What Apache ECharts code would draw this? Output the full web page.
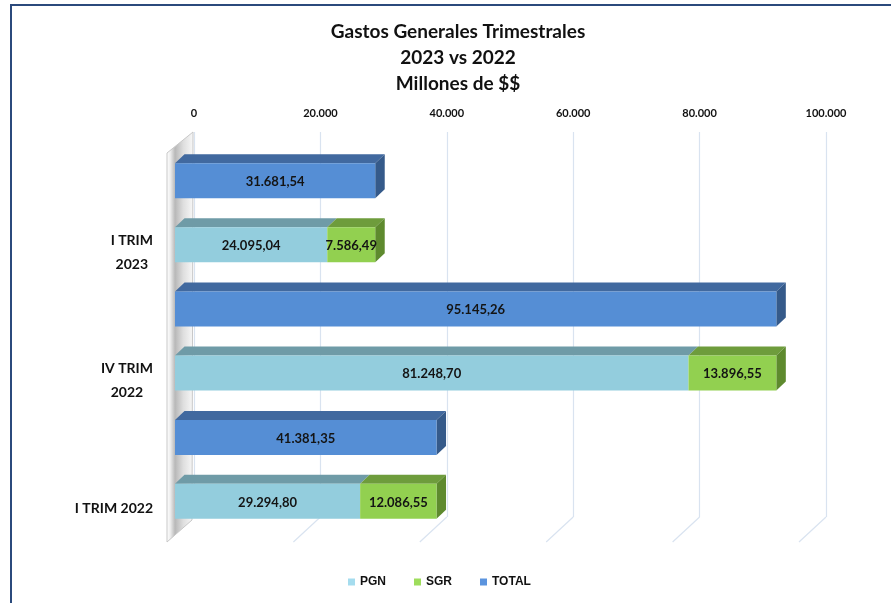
<!DOCTYPE html>
<html><head><meta charset="utf-8">
<script src="https://cdn.jsdelivr.net/npm/echarts@6/dist/echarts.min.js"></script>
<style>html,body{margin:0;padding:0;background:#fff}#c{width:891px;height:603px}</style>
</head><body><div id="c"></div>
<script>
const categories = ['I TRIM 2022', 'IV TRIM\n2022', 'I TRIM\n2023'];
const pgn = [29294.80, 81248.70, 24095.04];
const sgr = [12086.55, 13896.55, 7586.49];
const total = [41381.35, 95145.26, 31681.54];
const xTicks = [0, 20000, 40000, 60000, 80000, 100000];
const titleText = 'Gastos Generales Trimestrales\n2023 vs 2022\nMillones de $$';

function fmt(v, dec) {
  const s = v.toFixed(dec);
  let parts = s.split('.');
  let ip = parts[0].replace(/\B(?=(\d{3})+(?!\d))/g, '.');
  return parts[1] ? ip + ',' + parts[1] : ip;
}

const FX = -19, FY = 18, DX = 9.5, DY = -9;
const C = {
  pgn: {front: '#93cddd', top: '#6f9ba7', side: '#5f8a96'},
  sgr: {front: '#92d050', top: '#6e9c3c', side: '#5e8a2e'},
  total: {front: '#558ed5', top: '#41699f', side: '#355a8a'}
};

function barRender(colors, side) {
  return function (params, api) {
    const cat = api.value(0), start = api.value(1), val = api.value(2), row = api.value(3);
    const p0 = api.coord([start, cat]);
    const p1 = api.coord([start + val, cat]);
    const band = api.size([0, 1])[1];
    const h = band * 0.273;
    const yTop = p0[1] + (row === 1 ? -0.397 : 0.101) * band + FY;
    const x0 = p0[0] + FX, w = p1[0] - p0[0];
    const children = [
      {type: 'polygon', shape: {points: [[x0, yTop], [x0 + w, yTop], [x0 + w + DX, yTop + DY], [x0 + DX, yTop + DY]]}, style: {fill: colors.top}}
    ];
    if (side) children.push({type: 'polygon', shape: {points: [[x0 + w, yTop], [x0 + w + DX, yTop + DY], [x0 + w + DX, yTop + h + DY], [x0 + w, yTop + h]]}, style: {fill: colors.side}});
    children.push({type: 'rect', shape: {x: x0, y: yTop, width: w, height: h}, style: {fill: colors.front}});
    children.push({type: 'text', style: {text: fmt(val, 2), x: x0 + w / 2, y: yTop + h / 2 + 1, align: 'center', verticalAlign: 'middle', font: 'bold 13px Lato', fill: '#141414'}});
    return {type: 'group', children: children};
  };
}

function floorRender(params, api) {
  const cs = params.coordSys;
  const v = api.value(0);
  const bb = cs.y + cs.height;
  const children = [];
  if (v === 0) {
    const bx = cs.x, by = cs.y;
    children.push({type: 'polygon', shape: {points: [[bx - 1, by], [bx - 27, by + 21], [bx - 27, bb + 25], [bx - 2, bb + 3]]},
      style: {fill: new echarts.graphic.LinearGradient(bx - 27, 0, bx, 0, [
        {offset: 0, color: '#ffffff'}, {offset: 0.12, color: '#eeeeee'}, {offset: 0.3, color: '#b8b8b8'},
        {offset: 0.6, color: '#dedede'}, {offset: 1, color: '#fafafa'}], true), stroke: '#c8c8c8', lineWidth: 1}});
  } else {
    const x = api.coord([v, 0])[0];
    children.push({type: 'line', shape: {x1: x, y1: bb, x2: x - 27, y2: bb + 25}, style: {stroke: '#d9e3f0', lineWidth: 1.2}});
  }
  return {type: 'group', children: children};
}

const chart = echarts.init(document.getElementById('c'));
chart.setOption({
  animation: false,
  backgroundColor: '#ffffff',
  graphic: [
    {type: 'rect', shape: {x: 11, y: 5, width: 900, height: 700}, style: {fill: 'none', stroke: '#2b4a7c', lineWidth: 2}, z: 100},
    {type: 'text', style: {text: titleText, x: 458, y: 19, align: 'center', verticalAlign: 'top', font: 'bold 19px Lato', lineHeight: 26, fill: '#111'}}
  ],
  legend: {
    data: ['PGN', 'SGR', 'TOTAL'], left: 343, top: 571, icon: 'rect', itemWidth: 7, itemHeight: 7, itemGap: 28,
    textStyle: {fontFamily: 'Liberation Sans', fontWeight: 'bold', fontSize: 12, color: '#111'}
  },
  grid: {left: 194, right: 65, top: 132, bottom: 86},
  xAxis: {
    type: 'value', position: 'top', min: 0, max: 100000, interval: 20000,
    axisLine: {show: false}, axisTick: {show: false},
    splitLine: {lineStyle: {color: '#d9e3f0', width: 1.2}},
    axisLabel: {formatter: v => fmt(v, 0), fontFamily: 'Lato', fontWeight: 'bold', fontSize: 11, color: '#111', margin: 13}
  },
  yAxis: {
    type: 'category', data: categories,
    axisLine: {show: false}, axisTick: {show: false}, splitLine: {show: false},
    axisLabel: {
      margin: 41, verticalAlign: 'middle', padding: [112, 0, 0, 0],
      formatter: v => v.indexOf('\n') >= 0 ? '{c|' + v + '}' : '{s|' + v + '}',
      rich: {
        c: {align: 'center', fontFamily: 'Lato', fontWeight: 'bold', fontSize: 14, color: '#111', lineHeight: 24},
        s: {fontFamily: 'Lato', fontWeight: 'bold', fontSize: 14, color: '#111'}
      }
    }
  },
  series: [
    {type: 'custom', name: 'floor', silent: true, renderItem: floorRender, encode: {x: 0, y: 1},
      data: xTicks.map(v => [v, 0])},
    {type: 'custom', name: 'PGN', renderItem: barRender(C.pgn, false), itemStyle: {color: '#a5dcee'},
      encode: {x: [1, 2], y: 0}, data: pgn.map((v, i) => [i, 0, v, 0])},
    {type: 'custom', name: 'SGR', renderItem: barRender(C.sgr, true), itemStyle: {color: '#9edd5c'},
      encode: {x: [1, 2], y: 0}, data: sgr.map((v, i) => [i, pgn[i], v, 0])},
    {type: 'custom', name: 'TOTAL', renderItem: barRender(C.total, true), itemStyle: {color: '#5b94de'},
      encode: {x: [1, 2], y: 0}, data: total.map((v, i) => [i, 0, v, 1])}
  ]
});
</script></body></html>
